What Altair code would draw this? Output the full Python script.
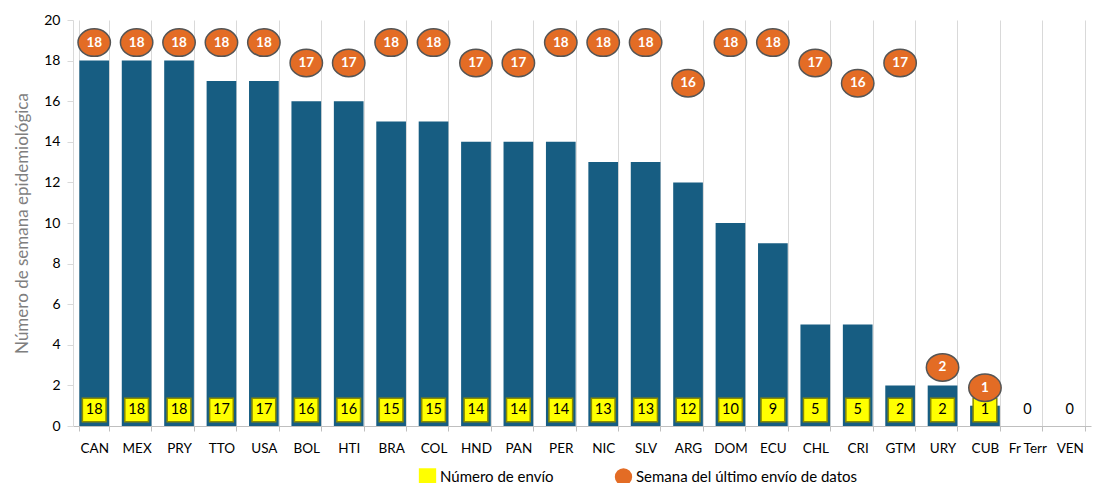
import altair as alt
import pandas as pd

paises = ["CAN", "MEX", "PRY", "TTO", "USA", "BOL", "HTI", "BRA", "COL", "HND", "PAN", "PER",
          "NIC", "SLV", "ARG", "DOM", "ECU", "CHL", "CRI", "GTM", "URY", "CUB", "Fr Terr", "VEN"]
envios = [18, 18, 18, 17, 17, 16, 16, 15, 15, 14, 14, 14, 13, 13, 12, 10, 9, 5, 5, 2, 2, 1, 0, 0]
semanas = [18, 18, 18, 18, 18, 17, 17, 18, 18, 17, 17, 18, 18, 18, 16, 18, 18, 17, 16, 17, 2, 1, None, None]

S1 = "Número de envío"
S2 = "Semana del último envío de datos"

df = pd.DataFrame({"pais": paises, "envio": envios, "semana": semanas})
df["s1"] = S1
df["s2"] = S2
df["cero"] = 0

FONT = "Lato"
ELLIPSE = "M -1 0 A 1 0.85 0 1 0 1 0 A 1 0.85 0 1 0 -1 0 Z"

x = alt.X("pais:N", sort=paises, title=None,
          scale=alt.Scale(paddingInner=0.3, paddingOuter=0.15),
          axis=alt.Axis(labelAngle=0, labelFontSize=13.5, labelColor="#000000", labelPadding=10,
                        tickBand="extent", grid=True, gridColor="#d9d9d9", domainColor="#bfbfbf",
                        tickColor="#bfbfbf", tickSize=5))

base = alt.Chart(df)

bars = base.mark_bar(color="#175d82").encode(
    x=x,
    y=alt.Y("envio:Q", scale=alt.Scale(domain=[0, 20]),
            title="Número de semana epidemiológica",
            axis=alt.Axis(values=list(range(0, 21, 2)), labelFontSize=14, labelColor="#000000",
                          labelPadding=7,
                          titleFontSize=17, titleColor="#7f7f7f", titleFontWeight="normal",
                          titlePadding=12, grid=False, domainColor="#d9d9d9", tickColor="#d9d9d9",
                          tickSize=6)),
)

color_scale = alt.Scale(domain=[S1, S2], range=["#ffff00", "#e36c25"])
shape_scale = alt.Scale(domain=[S1, S2], range=["square", "circle"])
legend = alt.Legend(title=None, orient="none", legendX=345, legendY=447, direction="horizontal",
                    labelFontSize=15, labelColor="#000000", symbolSize=300, columnPadding=58,
                    symbolStrokeColor="#555555", symbolStrokeWidth=1, labelFont=FONT, labelOffset=3,
                    labelLimit=0)

squares = base.transform_filter("datum.envio > 0").mark_point(
    filled=True, size=560, stroke="#8a8a00", strokeWidth=1.5, yOffset=-16, opacity=1
).encode(
    x=alt.X("pais:N", sort=paises),
    y=alt.Y("cero:Q"),
    fill=alt.Fill("s1:N", scale=color_scale, legend=legend),
    shape=alt.Shape("s1:N", scale=shape_scale, legend=legend),
)

sq_text = base.mark_text(fontSize=14.5, color="#000000", yOffset=-16, font=FONT).encode(
    x=alt.X("pais:N", sort=paises),
    y=alt.Y("cero:Q"),
    text=alt.Text("envio:Q"),
)

circles = base.transform_filter("isValid(datum.semana)").mark_point(
    filled=True, size=1050, stroke="#555555", strokeWidth=1.5, yOffset=-18, opacity=1,
    shape=ELLIPSE
).encode(
    x=alt.X("pais:N", sort=paises),
    y=alt.Y("semana:Q"),
    fill=alt.Fill("s2:N", scale=color_scale, legend=legend),
)

# invisible layer carrying the circle entry of the legend
legend_circle = base.transform_filter("isValid(datum.semana)").mark_point(
    filled=True, size=10, opacity=0
).encode(
    x=alt.X("pais:N", sort=paises),
    y=alt.Y("semana:Q"),
    fill=alt.Fill("s2:N", scale=color_scale, legend=legend),
    shape=alt.Shape("s2:N", scale=shape_scale, legend=legend),
)

circ_text = base.transform_filter("isValid(datum.semana)").mark_text(
    fontSize=13.5, fontWeight="bold", color="#ffffff", yOffset=-18, font=FONT
).encode(
    x=alt.X("pais:N", sort=paises),
    y=alt.Y("semana:Q"),
    text=alt.Text("semana:Q"),
)

chart = alt.layer(bars, squares, sq_text, legend_circle, circles, circ_text).properties(
    width=1018, height=406
).configure_view(stroke=None).configure_axis(labelFont=FONT, titleFont=FONT)

chart.save("out.html", embed_options={"renderer": "svg", "actions": False})
